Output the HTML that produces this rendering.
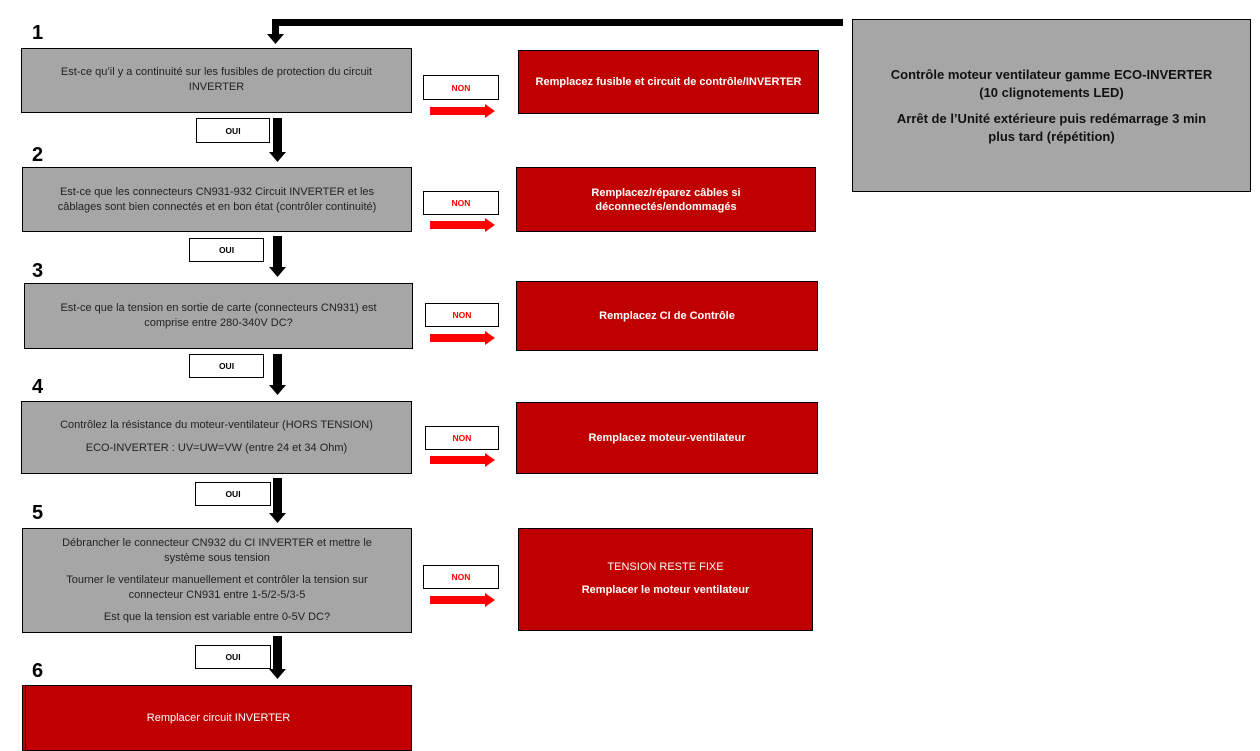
<!DOCTYPE html>
<html><head><meta charset="utf-8"><style>
body{margin:0;width:1260px;height:751px;background:#fff;position:relative;overflow:hidden;font-family:"Liberation Sans",sans-serif}
.b{position:absolute;box-sizing:border-box;border:1.5px solid #000;display:flex;flex-direction:column;justify-content:center;align-items:center;text-align:center}
.g{background:#a6a6a6;color:#222;font-size:11px;line-height:15px}
.g p{margin:2px 0}
.r{background:#c00000;color:#fff;font-size:11px;line-height:14px;font-weight:bold}
.r p{margin:3px 0}
.n{background:#fff;border-width:1px;color:#ff0000;font-size:8.5px;font-weight:bold}
.o{background:#fff;border-width:1px;color:#000;font-size:8.5px;font-weight:bold}
.num{position:absolute;font-size:20px;font-weight:bold;color:#000}
svg{position:absolute;left:0;top:0}
</style></head><body>
<svg width="1260" height="751">
<g fill="#000">
<polygon points="272,19 843,19 843,26 279,26 279,34 284,34 275.5,44 267,34 272,34"/>
<polygon points="273,118 282,118 282,152 286,152 277.5,162 269,152 273,152"/>
<polygon points="273,236 282,236 282,267 286,267 277.5,277 269,267 273,267"/>
<polygon points="273,354 282,354 282,385 286,385 277.5,395 269,385 273,385"/>
<polygon points="273,478 282,478 282,513 286,513 277.5,523 269,513 273,513"/>
<polygon points="273,636 282,636 282,669 286,669 277.5,679 269,669 273,669"/>
</g>
<g fill="#ff0000">
<polygon points="430,107 485,107 485,104 495,111 485,118 485,115 430,115"/>
<polygon points="430,221 485,221 485,218 495,225 485,232 485,229 430,229"/>
<polygon points="430,334 485,334 485,331 495,338 485,345 485,342 430,342"/>
<polygon points="430,456 485,456 485,453 495,460 485,467 485,464 430,464"/>
<polygon points="430,596 485,596 485,593 495,600 485,607 485,604 430,604"/>
</g>
</svg>
<div class="num" style="left:32px;top:22px">1</div>
<div class="num" style="left:32px;top:144px">2</div>
<div class="num" style="left:32px;top:260px">3</div>
<div class="num" style="left:32px;top:376px">4</div>
<div class="num" style="left:32px;top:502px">5</div>
<div class="num" style="left:32px;top:660px">6</div>

<div class="b g" style="left:21px;top:48px;width:391px;height:65px;padding-bottom:2px"><p>Est-ce qu’il y a continuité sur les fusibles de protection du circuit<br>INVERTER</p></div>
<div class="b g" style="left:22px;top:167px;width:390px;height:65px"><p>Est-ce que les connecteurs CN931-932 Circuit INVERTER et les<br>câblages sont bien connectés et en bon état (contrôler continuité)</p></div>
<div class="b g" style="left:24px;top:283px;width:389px;height:66px"><p>Est-ce que la tension en sortie de carte (connecteurs CN931) est<br>comprise entre 280-340V DC?</p></div>
<div class="b g" style="left:21px;top:401px;width:391px;height:73px;padding-bottom:2px"><p>Contrôlez la résistance du moteur-ventilateur (HORS TENSION)</p><p style="margin-top:6px">ECO-INVERTER : UV=UW=VW (entre 24 et 34 Ohm)</p></div>
<div class="b g" style="left:22px;top:528px;width:390px;height:105px"><p>Débrancher le connecteur CN932 du CI INVERTER et mettre le<br>système sous tension</p><p style="margin-top:5px">Tourner le ventilateur manuellement et contrôler la tension sur<br>connecteur CN931 entre 1-5/2-5/3-5</p><p style="margin-top:5px">Est que la tension est variable entre 0-5V DC?</p></div>
<div class="b r" style="left:22px;top:685px;width:390px;height:66px;font-weight:normal;border-left:4px double #000">Remplacer circuit INVERTER</div>

<div class="b r" style="left:518px;top:50px;width:301px;height:64px">Remplacez fusible et circuit de contrôle/INVERTER</div>
<div class="b r" style="left:516px;top:167px;width:300px;height:65px">Remplacez/réparez câbles si<br>déconnectés/endommagés</div>
<div class="b r" style="left:516px;top:281px;width:302px;height:70px">Remplacez CI de Contrôle</div>
<div class="b r" style="left:516px;top:402px;width:302px;height:72px">Remplacez moteur-ventilateur</div>
<div class="b r" style="left:518px;top:528px;width:295px;height:103px;padding-bottom:2px"><p style="font-weight:normal">TENSION RESTE FIXE</p><p style="margin-top:6px">Remplacer le moteur ventilateur</p></div>

<div class="b n" style="left:423px;top:75px;width:76px;height:25px">NON</div>
<div class="b n" style="left:423px;top:191px;width:76px;height:24px">NON</div>
<div class="b n" style="left:425px;top:303px;width:74px;height:24px">NON</div>
<div class="b n" style="left:425px;top:426px;width:74px;height:24px">NON</div>
<div class="b n" style="left:423px;top:565px;width:76px;height:24px">NON</div>

<div class="b o" style="left:196px;top:118px;width:74px;height:25px">OUI</div>
<div class="b o" style="left:189px;top:238px;width:75px;height:24px">OUI</div>
<div class="b o" style="left:189px;top:354px;width:75px;height:24px">OUI</div>
<div class="b o" style="left:195px;top:482px;width:76px;height:24px">OUI</div>
<div class="b o" style="left:195px;top:645px;width:76px;height:24px">OUI</div>

<div class="b" style="left:852px;top:19px;width:399px;height:173px;background:#a6a6a6;color:#111;font-size:13px;font-weight:bold;line-height:18px"><p style="margin:0 0 8px">Contrôle moteur ventilateur gamme ECO-INVERTER<br>(10 clignotements LED)</p><p style="margin:0">Arrêt de l’Unité extérieure puis redémarrage 3 min<br>plus tard (répétition)</p></div>
</body></html>
